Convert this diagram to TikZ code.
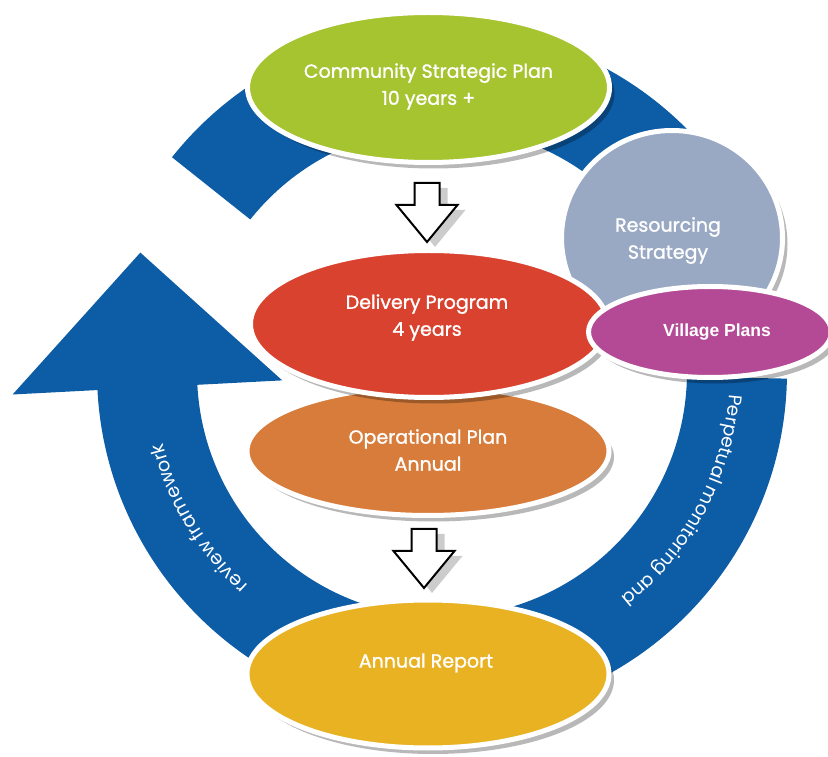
\documentclass[tikz,border=0pt]{standalone}
\usepackage{fontspec}
\setmainfont{Poppins}
\newfontfamily\planfont[FakeBold=1.2]{Poppins}
\newfontfamily\villagefont{Liberation Sans}
\usetikzlibrary{shapes.geometric,shadows,calc,decorations.text}

\definecolor{ringblue}{RGB}{12,92,166}
\definecolor{cspgreen}{RGB}{166,195,48}
\definecolor{resgray}{RGB}{153,169,196}
\definecolor{delred}{RGB}{217,66,46}
\definecolor{villagepink}{RGB}{180,74,150}
\definecolor{oporange}{RGB}{215,124,58}
\definecolor{repyellow}{RGB}{232,178,34}

\begin{document}
\begin{tikzpicture}[x=1pt,y=1pt]
	\tikzstyle{plan}=[ellipse, draw=white, line width=5pt, inner sep=0pt, drop shadow={shadow xshift=5pt, shadow yshift=-6pt, opacity=0.28, fill=black}]
	\tikzstyle{plantext}=[text=white, align=center, font=\planfont\fontsize{19}{27}\selectfont]
	\tikzstyle{hollow}=[draw=black, line width=2pt, fill=white, drop shadow={shadow xshift=8pt, shadow yshift=-5pt, opacity=0.2, fill=black}]
	\newcommand\hollowarrow[1]{\draw[hollow] (#1) ++(-12.5,0) -- ++(25,0) -- ++(0,-22) -- ++(18,0) -- ++(-30.5,-37) -- ++(-30.5,37) -- ++(18,0) -- cycle;}
	\useasboundingbox (0,0) rectangle (828,756);
	\coordinate (C) at (442,384);

	% the blue cycle
	\fill[ringblue] ($(C)+(141.5:345)$) arc[start angle=141.5, end angle=22, radius=345] -- ($(C)+(22:245)$) arc[start angle=22, end angle=141.5, radius=245] -- cycle;
	\fill[ringblue] ($(C)+(-1.1:345)$) arc[start angle=-1.1, end angle=-85, radius=345] -- ($(C)+(-85:245)$) arc[start angle=-85, end angle=-1.1, radius=245] -- cycle;
	\fill[ringblue] ($(C)+(265:345)$) arc[start angle=265, end angle=183, radius=345] -- ($(C)+(183:430)$) -- ($(C)+(183:295)+(93:135)$) -- ($(C)+(183:160)$) -- ($(C)+(183:245)$) arc[start angle=183, end angle=265, radius=245] -- cycle;
	\path[decorate, decoration={text along path, text color=white, text align=center, text={|\fontsize{19}{19}\selectfont|review framework}}] ($(C)+(251:288)$) arc[start angle=251, end angle=171, radius=288];
	\path[decorate, decoration={text along path, text color=white, text align=center, text={|\fontsize{18.5}{19}\selectfont|Perpetual monitoring and}}] ($(C)+(12:288)$) arc[start angle=12, end angle=-68, radius=288];

	% plans
	\node[plan, fill=cspgreen, minimum width=362pt, minimum height=150pt] (csp) at (428.5,668.5) {};
	\node[plan, fill=resgray, minimum width=221pt, minimum height=215pt] (resourcing) at (672,518) {};
	\node[plan, fill=oporange, minimum width=362pt, minimum height=129pt] (operational) at (428,305) {};
	\node[plan, fill=delred, minimum width=357pt, minimum height=147pt] (delivery) at (429,432) {};
	\node[plan, fill=villagepink, minimum width=243pt, minimum height=91pt] (village) at (710,424) {};
	\node[plan, fill=repyellow, minimum width=362pt, minimum height=148pt] (report) at (428,82) {};

	\node[plantext] at ([yshift=1pt]csp.center) {Community Strategic Plan\\10 years +};
	\node[plantext] at ([shift={(-4pt,-2.5pt)}]resourcing.center) {Resourcing\\Strategy};
	\node[plantext] at ([shift={(-2pt,6.5pt)}]delivery.center) {Delivery Program\\4 years};
	\node[plantext] at ([yshift=1pt]operational.center) {Operational Plan\\Annual};
	\node[plantext, font=\villagefont\bfseries\fontsize{17.5}{20}\selectfont] at ([xshift=7pt]village.center) {Village Plans};
	\node[plantext] at ([shift={(-2pt,11pt)}]report.center) {Annual Report};

	% down arrows
	\coordinate (arrowtop) at (427,573);
	\coordinate (arrowbottom) at (424,227);
	\hollowarrow{arrowtop}
	\hollowarrow{arrowbottom}
\end{tikzpicture}
\end{document}
